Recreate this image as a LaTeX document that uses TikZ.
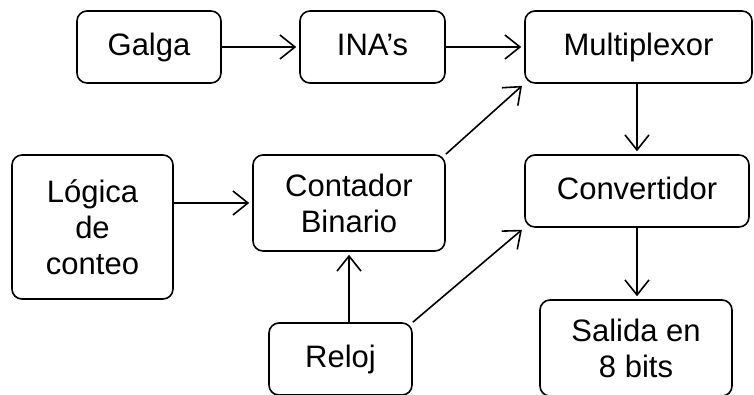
\documentclass[tikz,border=0pt]{standalone}
\usepackage{fontspec}
\setmainfont{Liberation Sans}
\usetikzlibrary{arrows.meta,positioning}

\tikzset{
  blk/.style={draw,rounded corners=10pt,line width=1.6pt,align=center,
    inner sep=0pt,font=\fontsize{31}{36}\selectfont},
  linea/.style={text height=22pt,text depth=6pt},
  flecha/.style={-{Straight Barb[length=15pt,width=24pt,line width=1.6pt]},
    line width=1.6pt,shorten >=3pt}
}

\begin{document}
\begin{tikzpicture}[x=1pt,y=-1pt]
        \useasboundingbox (0,0) rectangle (754,394);
        \clip (0,0) rectangle (754,394);
        \node[blk,linea,minimum width=144pt,minimum height=72pt] (galga) at (149,47) {Galga};
        \node[blk,linea,minimum width=145pt,minimum height=72pt] (ina) at (372.5,47) {INA’s};
        \node[blk,linea,minimum width=227pt,minimum height=72pt] (mux) at (638.5,47) {Multiplexor};
        \node[blk,minimum width=161pt,minimum height=144pt] (logica) at (92.5,227) {Lógica\\de\\conteo};
        \node[blk,minimum width=192pt,minimum height=96pt] (cont) at (349,203) {Contador\\Binario};
        \node[blk,linea,minimum width=224pt,minimum height=72pt] (conv) at (637,191) {Convertidor};
        \node[blk,linea,minimum width=143pt,minimum height=72pt] (reloj) at (340.5,359) {Reloj};
        \node[blk,minimum width=192pt,minimum height=96pt] (salida) at (636,348) {Salida en\\8 bits};
        % conexiones
        \draw[flecha] (galga) -- (ina);
        \draw[flecha] (ina) -- (mux);
        \draw[flecha] (logica.east |- cont.west) -- (cont.west);
        \draw[flecha] (cont.north east) -- (mux.south west);
        \draw[flecha] (mux.south -| conv.north) -- (conv.north);
        \draw[flecha] (cont.south |- reloj.north) -- (cont.south);
        \draw[flecha] (reloj.north east) -- (conv.south west);
        \draw[flecha] (conv.south) -- (conv.south |- salida.north);
    \end{tikzpicture}
\end{document}
